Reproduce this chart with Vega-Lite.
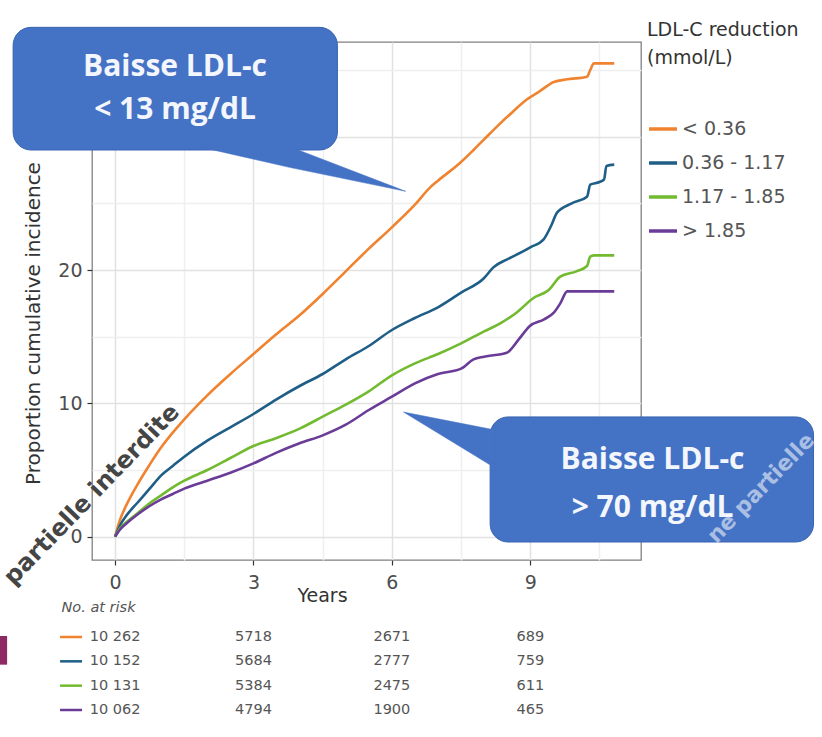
{
  "$schema": "https://vega.github.io/schema/vega-lite/v6.json",
  "width": 549,
  "height": 518,
  "autosize": {"type": "none"},
  "padding": {"left": 92, "top": 42, "right": 181, "bottom": 177},
  "background": "white",
  "config": {
    "font": "DejaVu Sans",
    "view": {"stroke": "#808080", "strokeWidth": 1.3},
    "axis": {
      "labelFont": "DejaVu Sans",
      "titleFont": "DejaVu Sans",
      "titleFontWeight": "normal"
    },
    "legend": {
      "titleFont": "DejaVu Sans",
      "labelFont": "DejaVu Sans",
      "titleFontWeight": "normal"
    }
  },
  "datasets": {
    "curves": [
      {"group": "< 0.36", "year": 0, "pct": 0},
      {"group": "< 0.36", "year": 0.1, "pct": 1.2},
      {"group": "< 0.36", "year": 0.25, "pct": 2.4},
      {"group": "< 0.36", "year": 0.5, "pct": 4.0},
      {"group": "< 0.36", "year": 0.75, "pct": 5.4},
      {"group": "< 0.36", "year": 1.0, "pct": 6.7},
      {"group": "< 0.36", "year": 1.25, "pct": 7.8},
      {"group": "< 0.36", "year": 1.5, "pct": 8.8},
      {"group": "< 0.36", "year": 2.0, "pct": 10.6},
      {"group": "< 0.36", "year": 2.5, "pct": 12.2},
      {"group": "< 0.36", "year": 3.0, "pct": 13.7},
      {"group": "< 0.36", "year": 3.5, "pct": 15.2},
      {"group": "< 0.36", "year": 4.0, "pct": 16.6},
      {"group": "< 0.36", "year": 4.5, "pct": 18.2},
      {"group": "< 0.36", "year": 5.0, "pct": 19.9},
      {"group": "< 0.36", "year": 5.5, "pct": 21.6},
      {"group": "< 0.36", "year": 6.0, "pct": 23.2},
      {"group": "< 0.36", "year": 6.5, "pct": 24.9},
      {"group": "< 0.36", "year": 6.83, "pct": 26.2},
      {"group": "< 0.36", "year": 7.0, "pct": 26.7},
      {"group": "< 0.36", "year": 7.5, "pct": 28.1},
      {"group": "< 0.36", "year": 7.77, "pct": 29.0},
      {"group": "< 0.36", "year": 8.0, "pct": 29.8},
      {"group": "< 0.36", "year": 8.35, "pct": 31.0},
      {"group": "< 0.36", "year": 8.6, "pct": 31.8},
      {"group": "< 0.36", "year": 8.93, "pct": 32.8},
      {"group": "< 0.36", "year": 9.2, "pct": 33.4},
      {"group": "< 0.36", "year": 9.51, "pct": 34.1},
      {"group": "< 0.36", "year": 9.8, "pct": 34.3},
      {"group": "< 0.36", "year": 10.23, "pct": 34.5},
      {"group": "< 0.36", "year": 10.3, "pct": 35.0},
      {"group": "< 0.36", "year": 10.38, "pct": 35.5},
      {"group": "< 0.36", "year": 10.82, "pct": 35.5},

      {"group": "0.36 - 1.17", "year": 0, "pct": 0},
      {"group": "0.36 - 1.17", "year": 0.1, "pct": 0.8},
      {"group": "0.36 - 1.17", "year": 0.25, "pct": 1.6},
      {"group": "0.36 - 1.17", "year": 0.5, "pct": 2.6},
      {"group": "0.36 - 1.17", "year": 0.75, "pct": 3.6},
      {"group": "0.36 - 1.17", "year": 1.0, "pct": 4.6},
      {"group": "0.36 - 1.17", "year": 1.25, "pct": 5.3},
      {"group": "0.36 - 1.17", "year": 1.5, "pct": 6.0},
      {"group": "0.36 - 1.17", "year": 2.0, "pct": 7.2},
      {"group": "0.36 - 1.17", "year": 2.5, "pct": 8.2},
      {"group": "0.36 - 1.17", "year": 3.0, "pct": 9.2},
      {"group": "0.36 - 1.17", "year": 3.5, "pct": 10.3},
      {"group": "0.36 - 1.17", "year": 4.0, "pct": 11.3},
      {"group": "0.36 - 1.17", "year": 4.5, "pct": 12.2},
      {"group": "0.36 - 1.17", "year": 5.0, "pct": 13.3},
      {"group": "0.36 - 1.17", "year": 5.5, "pct": 14.3},
      {"group": "0.36 - 1.17", "year": 6.0, "pct": 15.5},
      {"group": "0.36 - 1.17", "year": 6.5, "pct": 16.4},
      {"group": "0.36 - 1.17", "year": 7.0, "pct": 17.2},
      {"group": "0.36 - 1.17", "year": 7.5, "pct": 18.3},
      {"group": "0.36 - 1.17", "year": 8.0, "pct": 19.4},
      {"group": "0.36 - 1.17", "year": 8.2, "pct": 20.2},
      {"group": "0.36 - 1.17", "year": 8.5, "pct": 20.8},
      {"group": "0.36 - 1.17", "year": 8.79, "pct": 21.3},
      {"group": "0.36 - 1.17", "year": 9.0, "pct": 21.7},
      {"group": "0.36 - 1.17", "year": 9.29, "pct": 22.3},
      {"group": "0.36 - 1.17", "year": 9.45, "pct": 23.3},
      {"group": "0.36 - 1.17", "year": 9.58, "pct": 24.3},
      {"group": "0.36 - 1.17", "year": 9.9, "pct": 25.0},
      {"group": "0.36 - 1.17", "year": 10.23, "pct": 25.5},
      {"group": "0.36 - 1.17", "year": 10.3, "pct": 26.4},
      {"group": "0.36 - 1.17", "year": 10.5, "pct": 26.6},
      {"group": "0.36 - 1.17", "year": 10.6, "pct": 26.8},
      {"group": "0.36 - 1.17", "year": 10.65, "pct": 27.8},
      {"group": "0.36 - 1.17", "year": 10.82, "pct": 27.9},

      {"group": "1.17 - 1.85", "year": 0, "pct": 0},
      {"group": "1.17 - 1.85", "year": 0.1, "pct": 0.6},
      {"group": "1.17 - 1.85", "year": 0.25, "pct": 1.1},
      {"group": "1.17 - 1.85", "year": 0.5, "pct": 1.8},
      {"group": "1.17 - 1.85", "year": 0.75, "pct": 2.5},
      {"group": "1.17 - 1.85", "year": 1.0, "pct": 3.1},
      {"group": "1.17 - 1.85", "year": 1.25, "pct": 3.7},
      {"group": "1.17 - 1.85", "year": 1.5, "pct": 4.2},
      {"group": "1.17 - 1.85", "year": 2.0, "pct": 5.0},
      {"group": "1.17 - 1.85", "year": 2.5, "pct": 5.9},
      {"group": "1.17 - 1.85", "year": 3.0, "pct": 6.8},
      {"group": "1.17 - 1.85", "year": 3.5, "pct": 7.4},
      {"group": "1.17 - 1.85", "year": 4.0, "pct": 8.1},
      {"group": "1.17 - 1.85", "year": 4.5, "pct": 9.0},
      {"group": "1.17 - 1.85", "year": 5.0, "pct": 9.9},
      {"group": "1.17 - 1.85", "year": 5.5, "pct": 10.9},
      {"group": "1.17 - 1.85", "year": 6.0, "pct": 12.1},
      {"group": "1.17 - 1.85", "year": 6.5, "pct": 13.0},
      {"group": "1.17 - 1.85", "year": 7.0, "pct": 13.7},
      {"group": "1.17 - 1.85", "year": 7.5, "pct": 14.5},
      {"group": "1.17 - 1.85", "year": 8.0, "pct": 15.4},
      {"group": "1.17 - 1.85", "year": 8.35, "pct": 16.0},
      {"group": "1.17 - 1.85", "year": 8.7, "pct": 16.8},
      {"group": "1.17 - 1.85", "year": 9.07, "pct": 17.9},
      {"group": "1.17 - 1.85", "year": 9.4, "pct": 18.5},
      {"group": "1.17 - 1.85", "year": 9.65, "pct": 19.5},
      {"group": "1.17 - 1.85", "year": 10.0, "pct": 19.9},
      {"group": "1.17 - 1.85", "year": 10.23, "pct": 20.3},
      {"group": "1.17 - 1.85", "year": 10.3, "pct": 21.0},
      {"group": "1.17 - 1.85", "year": 10.38, "pct": 21.1},
      {"group": "1.17 - 1.85", "year": 10.82, "pct": 21.1},

      {"group": "> 1.85", "year": 0, "pct": 0},
      {"group": "> 1.85", "year": 0.1, "pct": 0.5},
      {"group": "> 1.85", "year": 0.25, "pct": 1.0},
      {"group": "> 1.85", "year": 0.5, "pct": 1.7},
      {"group": "> 1.85", "year": 0.75, "pct": 2.3},
      {"group": "> 1.85", "year": 1.0, "pct": 2.8},
      {"group": "> 1.85", "year": 1.25, "pct": 3.2},
      {"group": "> 1.85", "year": 1.5, "pct": 3.6},
      {"group": "> 1.85", "year": 2.0, "pct": 4.2},
      {"group": "> 1.85", "year": 2.5, "pct": 4.8},
      {"group": "> 1.85", "year": 3.0, "pct": 5.5},
      {"group": "> 1.85", "year": 3.5, "pct": 6.3},
      {"group": "> 1.85", "year": 4.0, "pct": 7.0},
      {"group": "> 1.85", "year": 4.5, "pct": 7.6},
      {"group": "> 1.85", "year": 5.0, "pct": 8.4},
      {"group": "> 1.85", "year": 5.5, "pct": 9.5},
      {"group": "> 1.85", "year": 6.0, "pct": 10.5},
      {"group": "> 1.85", "year": 6.5, "pct": 11.5},
      {"group": "> 1.85", "year": 7.0, "pct": 12.2},
      {"group": "> 1.85", "year": 7.5, "pct": 12.6},
      {"group": "> 1.85", "year": 7.77, "pct": 13.3},
      {"group": "> 1.85", "year": 8.0, "pct": 13.5},
      {"group": "> 1.85", "year": 8.49, "pct": 13.8},
      {"group": "> 1.85", "year": 8.75, "pct": 14.8},
      {"group": "> 1.85", "year": 8.99, "pct": 15.8},
      {"group": "> 1.85", "year": 9.3, "pct": 16.3},
      {"group": "> 1.85", "year": 9.51, "pct": 16.8},
      {"group": "> 1.85", "year": 9.65, "pct": 17.5},
      {"group": "> 1.85", "year": 9.8, "pct": 18.4},
      {"group": "> 1.85", "year": 10.82, "pct": 18.4}
    ],
    "risk": [
      {"group": "< 0.36", "year": 0, "n": 10262},
      {"group": "< 0.36", "year": 3, "n": 5718},
      {"group": "< 0.36", "year": 6, "n": 2671},
      {"group": "< 0.36", "year": 9, "n": 689},
      {"group": "0.36 - 1.17", "year": 0, "n": 10152},
      {"group": "0.36 - 1.17", "year": 3, "n": 5684},
      {"group": "0.36 - 1.17", "year": 6, "n": 2777},
      {"group": "0.36 - 1.17", "year": 9, "n": 759},
      {"group": "1.17 - 1.85", "year": 0, "n": 10131},
      {"group": "1.17 - 1.85", "year": 3, "n": 5384},
      {"group": "1.17 - 1.85", "year": 6, "n": 2475},
      {"group": "1.17 - 1.85", "year": 9, "n": 611},
      {"group": "> 1.85", "year": 0, "n": 10062},
      {"group": "> 1.85", "year": 3, "n": 4794},
      {"group": "> 1.85", "year": 6, "n": 1900},
      {"group": "> 1.85", "year": 9, "n": 465}
    ],
    "boxes": [
      {"callout": "low", "x": -2.21, "x2": 4.82, "y": 38.2, "y2": 29.0},
      {"callout": "high", "x": 8.13, "x2": 15.14, "y": 8.98, "y2": -0.4}
    ],
    "pointers": [
      {"callout": "low", "x": 1.84, "y": 29.23, "y2": 29.23},
      {"callout": "low", "x": 3.8, "y": 29.23, "y2": 27.68},
      {"callout": "low", "x": 6.3, "y": 25.9, "y2": 25.9},
      {"callout": "high", "x": 6.25, "y": 9.35, "y2": 9.35},
      {"callout": "high", "x": 8.24, "y": 8.0, "y2": 5.15}
    ],
    "notes": [
      {"callout": "low", "x": 1.3, "y": 35.2, "text": "Baisse LDL-c"},
      {"callout": "low", "x": 1.3, "y": 32.0, "text": "< 13 mg/dL"},
      {"callout": "high", "x": 11.65, "y": 5.75, "text": "Baisse LDL-c"},
      {"callout": "high", "x": 11.65, "y": 2.15, "text": "> 70 mg/dL"}
    ],
    "stamps": [
      {"kind": "dark", "x": -0.5, "y": 3.13, "text": "partielle interdite"},
      {"kind": "light", "x": 14.0, "y": 3.65, "text": "ne partielle"}
    ],
    "tabs": [
      {"x": -2.5, "x2": -2.34, "y": -7.45, "y2": -9.6}
    ]
  },
  "layer": [
    {
      "layer": [
        {
          "data": {"name": "curves"},
          "mark": {"type": "line", "strokeWidth": 2.6, "interpolate": "monotone"},
          "encoding": {
            "x": {
              "field": "year", "type": "quantitative",
              "scale": {"domain": [-0.5, 11.4], "nice": false, "zero": false},
              "axis": {
                "title": "Years",
                "values": [0, 1.5, 3, 4.5, 6, 7.5, 9, 10.5],
                "format": "d",
                "labelExpr": "datum.value % 3 === 0 ? datum.label : ''",
                "domain": false,
                "grid": true,
                "gridColor": {"condition": {"test": "datum.value % 3 === 0", "value": "#e1e1e1"}, "value": "#efefef"},
                "gridWidth": 1.5,
                "tickColor": {"condition": {"test": "datum.value % 3 === 0", "value": "#333333"}, "value": "transparent"},
                "tickSize": 5,
                "tickWidth": 1.2,
                "labelFontSize": 19,
                "labelColor": "#4d4d4d",
                "labelPadding": 8,
                "titleFontSize": 19,
                "titleColor": "#333333",
                "titleX": 230,
                "titleY": 35,
                "titleBaseline": "middle"
              }
            },
            "y": {
              "field": "pct", "type": "quantitative",
              "scale": {"domain": [-1.75, 37.1], "nice": false, "zero": false},
              "axis": {
                "title": "Proportion cumulative incidence",
                "values": [0, 5, 10, 15, 20, 25, 30, 35],
                "format": "d",
                "labelExpr": "datum.value % 10 === 0 ? datum.label : ''",
                "domain": false,
                "grid": true,
                "gridColor": {"condition": {"test": "datum.value % 10 === 0", "value": "#e1e1e1"}, "value": "#efefef"},
                "gridWidth": 1.5,
                "tickColor": {"condition": {"test": "datum.value % 10 === 0", "value": "#333333"}, "value": "transparent"},
                "tickSize": 5,
                "tickWidth": 1.2,
                "labelFontSize": 19,
                "labelColor": "#4d4d4d",
                "labelPadding": 5,
                "titleFontSize": 20,
                "titleColor": "#333333",
                "titleX": -59,
                "titleY": 281,
                "titleAlign": "center",
                "titleBaseline": "middle"
              }
            },
            "color": {
              "field": "group", "type": "nominal",
              "scale": {
                "domain": ["< 0.36", "0.36 - 1.17", "1.17 - 1.85", "> 1.85"],
                "range": ["#f08330", "#1f5e86", "#72ba30", "#6a3c98"]
              },
              "legend": {
                "title": ["LDL-C reduction", "(mmol/L)"],
                "orient": "none",
                "legendX": 555,
                "legendY": -21,
                "padding": 0,
                "symbolType": "stroke",
                "symbolSize": 784,
                "symbolStrokeWidth": 3.5,
                "titleFontSize": 19,
                "titleColor": "#333333",
                "titleLineHeight": 28,
                "titlePadding": 45,
                "labelFontSize": 19,
                "labelColor": "#555555",
                "labelOffset": 3,
                "rowPadding": 8
              }
            }
          }
        },
        {
          "data": {"name": "stamps"},
          "transform": [{"filter": "datum.kind === 'dark'"}],
          "mark": {"type": "text", "angle": -46, "font": "DejaVu Sans", "fontSize": 24, "fontWeight": "bold", "color": "#454545", "align": "center", "baseline": "middle"},
          "encoding": {
            "x": {"field": "x", "type": "quantitative", "scale": {"domain": [-0.5, 11.4], "nice": false, "zero": false}},
            "y": {"field": "y", "type": "quantitative", "scale": {"domain": [-1.75, 37.1], "nice": false, "zero": false}},
            "text": {"field": "text"}
          }
        },
        {
          "data": {"name": "boxes"},
          "mark": {"type": "rect", "cornerRadius": 18, "fill": "#4472c4", "stroke": "#3a64b0", "strokeWidth": 1},
          "encoding": {
            "x": {"field": "x", "type": "quantitative", "scale": {"domain": [-0.5, 11.4], "nice": false, "zero": false}},
            "x2": {"field": "x2"},
            "y": {"field": "y", "type": "quantitative", "scale": {"domain": [-1.75, 37.1], "nice": false, "zero": false}},
            "y2": {"field": "y2"}
          }
        },
        {
          "data": {"name": "pointers"},
          "mark": {"type": "area", "fill": "#4472c4", "stroke": "#4472c4", "strokeWidth": 0.5, "interpolate": "linear"},
          "encoding": {
            "x": {"field": "x", "type": "quantitative", "scale": {"domain": [-0.5, 11.4], "nice": false, "zero": false}},
            "y": {"field": "y", "type": "quantitative", "scale": {"domain": [-1.75, 37.1], "nice": false, "zero": false}},
            "y2": {"field": "y2"},
            "detail": {"field": "callout", "type": "nominal"}
          }
        },
        {
          "data": {"name": "notes"},
          "mark": {"type": "text", "font": "Open Sans", "fontSize": 30, "fontWeight": "bold", "color": "#f3f6fc", "align": "center", "baseline": "middle"},
          "encoding": {
            "x": {"field": "x", "type": "quantitative", "scale": {"domain": [-0.5, 11.4], "nice": false, "zero": false}},
            "y": {"field": "y", "type": "quantitative", "scale": {"domain": [-1.75, 37.1], "nice": false, "zero": false}},
            "text": {"field": "text"}
          }
        },
        {
          "data": {"name": "stamps"},
          "transform": [{"filter": "datum.kind === 'light'"}],
          "mark": {"type": "text", "angle": -46, "font": "DejaVu Sans", "fontSize": 22, "fontWeight": "bold", "color": "#ffffff", "opacity": 0.55, "align": "center", "baseline": "middle"},
          "encoding": {
            "x": {"field": "x", "type": "quantitative", "scale": {"domain": [-0.5, 11.4], "nice": false, "zero": false}},
            "y": {"field": "y", "type": "quantitative", "scale": {"domain": [-1.75, 37.1], "nice": false, "zero": false}},
            "text": {"field": "text"}
          }
        },
        {
          "data": {"name": "tabs"},
          "mark": {"type": "rect", "fill": "#8e2a63"},
          "encoding": {
            "x": {"field": "x", "type": "quantitative", "scale": {"domain": [-0.5, 11.4], "nice": false, "zero": false}},
            "x2": {"field": "x2"},
            "y": {"field": "y", "type": "quantitative", "scale": {"domain": [-1.75, 37.1], "nice": false, "zero": false}},
            "y2": {"field": "y2"}
          }
        }
      ]
    },
    {
      "data": {"name": "risk"},
      "transform": [
        {"calculate": "datum.n >= 10000 ? replace(format(datum.n, ','), ',', ' ') : format(datum.n, 'd')", "as": "label"}
      ],
      "layer": [
        {
          "mark": {"type": "text", "font": "DejaVu Sans", "fontSize": 14.5, "color": "#555555", "align": "center", "baseline": "middle"},
          "encoding": {
            "x": {"field": "year", "type": "quantitative", "scale": {"domain": [-0.5, 11.4], "nice": false, "zero": false}},
            "y": {
              "field": "group", "type": "nominal",
              "scale": {"type": "point", "domain": ["< 0.36", "0.36 - 1.17", "1.17 - 1.85", "> 1.85"], "range": [595, 668], "padding": 0},
              "axis": {
                "orient": "left",
                "domain": false, "ticks": false, "labels": false, "grid": false,
                "title": "No. at risk",
                "titleAngle": 0,
                "titleX": -31,
                "titleY": 565,
                "titleAlign": "left",
                "titleBaseline": "middle",
                "titleFontStyle": "italic",
                "titleFontSize": 14.5,
                "titleColor": "#555555"
              }
            },
            "text": {"field": "label"}
          }
        },
        {
          "transform": [{"filter": "datum.year === 0"}],
          "mark": {"type": "point", "shape": "stroke", "filled": false, "size": 484, "strokeWidth": 2.5, "xOffset": -44, "opacity": 1},
          "encoding": {
            "x": {"field": "year", "type": "quantitative", "scale": {"domain": [-0.5, 11.4], "nice": false, "zero": false}},
            "y": {"field": "group", "type": "nominal", "scale": {"type": "point", "domain": ["< 0.36", "0.36 - 1.17", "1.17 - 1.85", "> 1.85"], "range": [595, 668], "padding": 0}},
            "color": {"field": "group", "type": "nominal", "legend": null}
          }
        }
      ]
    }
  ],
  "resolve": {"scale": {"y": "independent"}}
}
